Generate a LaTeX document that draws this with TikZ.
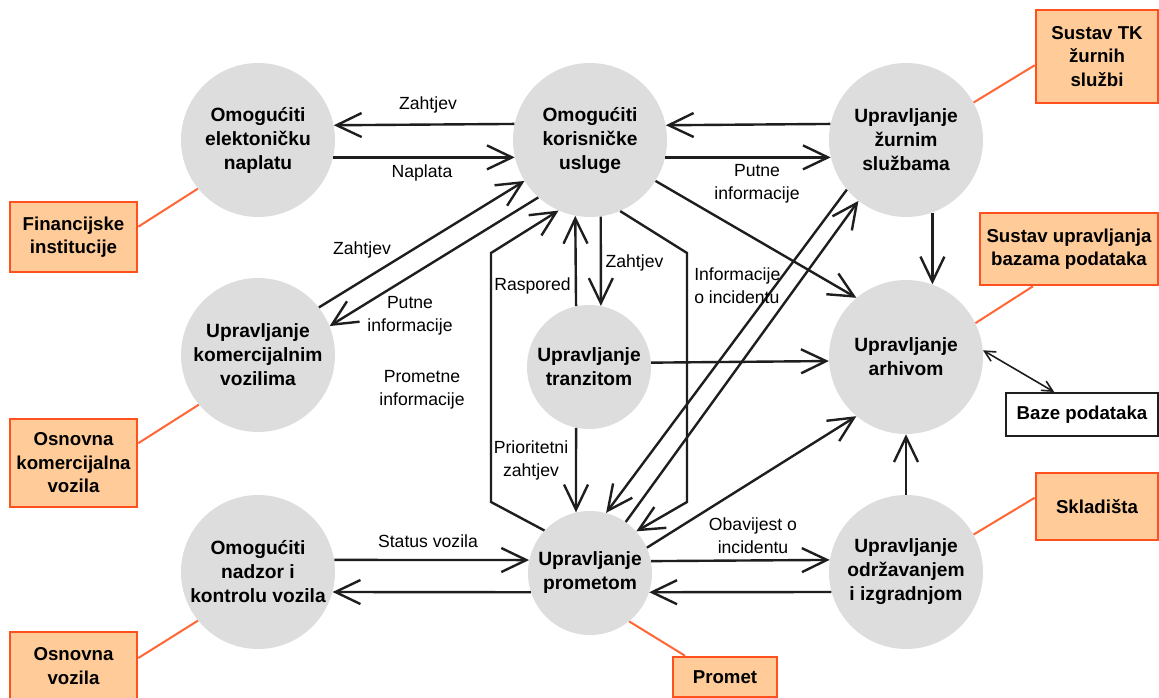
\documentclass[tikz,border=0pt]{standalone}
\usepackage{fontspec}
\setmainfont{Liberation Sans}
\usetikzlibrary{arrows.meta}
\definecolor{circfill}{RGB}{221,221,221}
\definecolor{boxfill}{RGB}{255,204,153}
\definecolor{boxedge}{RGB}{255,80,30}
\definecolor{orline}{RGB}{255,102,51}
\definecolor{ink}{RGB}{30,30,30}
\begin{document}
\begin{tikzpicture}[x=0.75pt,y=-0.75pt,
 proc/.style={circle,fill=circfill,draw=none,inner sep=0pt,minimum size=115.5pt,align=center,font=\bfseries\fontsize{14.4}{18}\selectfont},
 sproc/.style={proc,minimum size=93pt},
 ext/.style={rectangle,fill=boxfill,draw=boxedge,line width=1.9pt,inner sep=0pt,align=center,font=\bfseries\fontsize{14}{17.6}\selectfont},
 store/.style={rectangle,fill=white,draw=ink,line width=1.5pt,inner sep=0pt,align=center,font=\bfseries\fontsize{14}{17.6}\selectfont},
 lbl/.style={inner sep=0pt,align=center,font=\fontsize{13.2}{17.25}\selectfont},
 flow/.style={draw=ink,line width=1.8pt,-{Straight Barb[length=18.75pt,width=18pt]}},
 link/.style={draw=orline,line width=1.5pt},
 dbl/.style={draw=ink,line width=1.2pt,{Straight Barb[length=8pt,width=8pt]}-{Straight Barb[length=8pt,width=8pt]}},
]
\clip (0,0) rectangle (1159,698);
\fill[white] (0,0) rectangle (1159,698);

% processes
\node[proc] (EN) at (258,140) {Omogućiti\\elektoničku\\naplatu};
\node[proc] (KU) at (590,140) {Omogućiti\\korisničke\\usluge};
\node[proc] (ZS) at (906,140) {Upravljanje\\žurnim\\službama};
\node[proc] (KV) at (258,355) {Upravljanje\\komercijalnim\\vozilima};
\node[sproc] (TR) at (589,367) {Upravljanje\\tranzitom};
\node[proc] (AR) at (906,357) {Upravljanje\\arhivom};
\node[proc] (NK) at (258,572) {Omogućiti\\nadzor i\\kontrolu vozila};
\node[sproc] (PR) at (590,573) {Upravljanje\\prometom};
\node[proc] (OI) at (906,572) {Upravljanje\\održavanjem\\i izgradnjom};

% terminators
\node[ext,minimum width=95.25pt,minimum height=52.5pt] (FI) at (73.5,237) {Financijske\\institucije};
\node[ext,minimum width=95.25pt,minimum height=66pt] (OKV) at (73.5,463) {Osnovna\\komercijalna\\vozila};
\node[ext,minimum width=95.25pt,minimum height=51pt] (OV) at (73.5,666) {Osnovna\\vozila};
\node[ext,minimum width=91.5pt,minimum height=69.75pt] (TK) at (1097,56.5) {Sustav TK\\žurnih\\službi};
\node[ext,minimum width=133.5pt,minimum height=54pt] (SUBP) at (1069,249) {Sustav upravljanja\\bazama podataka};
\node[ext,minimum width=91.5pt,minimum height=50.25pt] (SK) at (1097,506.5) {Skladišta};
\node[ext,minimum width=78pt,minimum height=30pt] (PM) at (725,677) {Promet};
\node[store,minimum width=114pt,minimum height=32.25pt] (BP) at (1082,414.5) {Baze podataka};

% orange links
\draw[link] (EN.219) -- (FI.9.8);
\draw[link] (KV.220) -- (OKV.17);
\draw[link] (NK.219) -- (OV.7);
\draw[link] (ZS.29) -- (TK.188);
\draw[link] (AR.26) -- (SUBP.226.6);
\draw[link] (OI.29.5) -- (SK.172);
\draw[link] (PR.-51.6) -- (PM.152.2);

% flows top row
\draw[flow] (KU.168.8) -- (EN.11.2);
\draw[flow] (EN.-13.5) -- (KU.193.5);
\draw[flow] (ZS.168.8) -- (KU.11.2);
\draw[flow] (KU.-13.5) -- (ZS.193.5);

% KV <-> KU
\draw[flow] (KV.38.7) -- (KU.212.1);
\draw[flow] (KU.228.5) -- (KV.22.6);

% KU <-> TR, TR -> PR
\draw[flow] (TR.102.3) -- (KU.259.5);
\draw[flow] (KU.-82.5) -- (TR.79.6);
\draw[flow] (TR.-102.3) -- (PR.103);

% polylines
\draw[flow] (PR.137.7) -- (491,502) -- (491,253) -- (KU.246.3);
\draw[flow] (KU.-67.7) -- (687,253) -- (687,502) -- (PR.42.3);

% ZS <-> PR
\draw[flow] (ZS.220.9) -- (PR.75.3);
\draw[flow] (PR.55) -- (ZS.232.7);

% to AR
\draw[flow] (PR.24.5) -- (AR.230);
\draw[flow] (KU.-32.1) -- (AR.130.4);
\draw[flow] (ZS.-70.3) -- (AR.70.3);
\draw[flow] (TR.4.7) -- (AR.183.7);
\draw[flow] (OI.north) -- (AR.south);
\draw[dbl] (AR.5) -- (BP.141.5);

% bottom row
\draw[flow] (NK.9) -- (PR.168.8);
\draw[flow] (PR.198.8) -- (NK.-15.1);
\draw[flow] (PR.11.2) -- (OI.171);
\draw[flow] (OI.195.1) -- (PR.-18.8);

% labels
\node[lbl] (l1) at (428,105) {Zahtjev};
\node[lbl] (l2) at (422,173) {Naplata};
\node[lbl] (l3) at (757,183.5) {Putne\\informacije};
\node[lbl] (l4) at (362,250) {Zahtjev};
\node[lbl] (l5) at (410,315.5) {Putne\\informacije};
\node[lbl] (l6) at (422,390) {Prometne\\informacije};
\node[lbl] (l7) at (532.5,286) {Raspored};
\node[lbl] (l8) at (634.5,263) {Zahtjev};
\node[lbl] (l9) at (531,460) {Prioritetni\\zahtjev};
\node[lbl,anchor=west,align=left] (l10) at (694,286) {Informacije\\o incidentu};
\node[lbl] (l11) at (428,541) {Status vozila};
\node[lbl] (l12) at (753,535.5) {Obavijest o\\incidentu};
\end{tikzpicture}
\end{document}
